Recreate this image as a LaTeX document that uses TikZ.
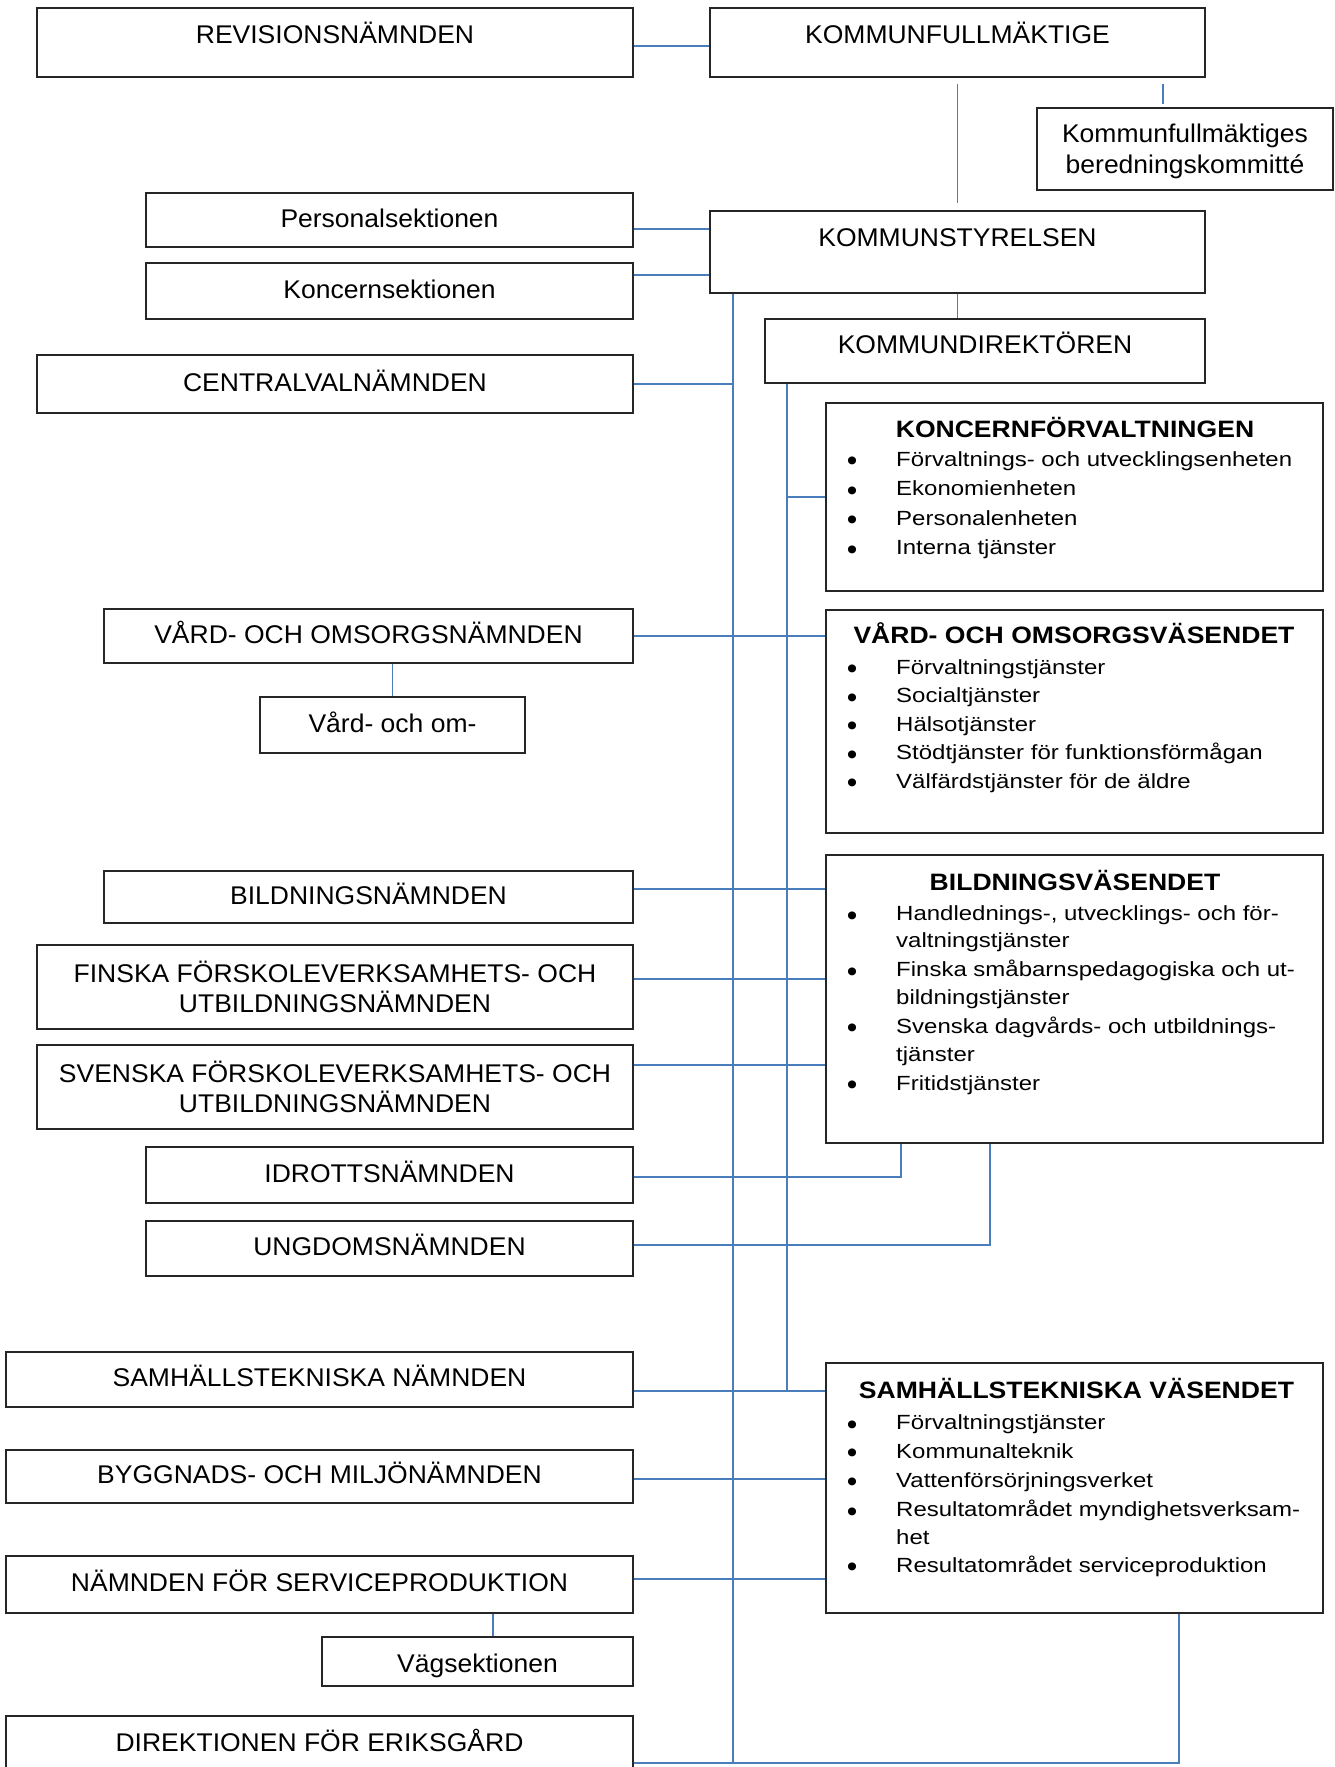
\documentclass[tikz,border=0pt]{standalone}
\usepackage{fontspec}
\setmainfont{Liberation Sans}[FakeStretch=1.035]
\newfontfamily\listfont{Liberation Sans}[FakeStretch=1.17]
\newfontfamily\titlefont{Liberation Sans}[FakeStretch=1.12]
\definecolor{linec}{RGB}{74,126,187}
\definecolor{boxc}{RGB}{38,38,38}
\tikzset{
  capfont/.style={font=\fontsize{25.6}{30.6}\selectfont},
  box/.style={draw=boxc, line width=1.2pt, fill=white, inner sep=0pt, align=center, capfont},
  oneline/.style={text height=18.4pt, text depth=3.5pt},
  captxt/.style={capfont, anchor=base, inner sep=0pt},
  item/.style={anchor=base west, inner sep=0pt, font=\listfont\fontsize{20.5}{24}\selectfont},
  bul/.style={anchor=base, inner sep=0pt, font=\fontsize{29}{30}\selectfont},
  ttl/.style={anchor=base, inner sep=0pt, font=\titlefont\bfseries\fontsize{23.7}{28}\selectfont},
  conn/.style={draw=linec, line width=1.4pt}
}
\begin{document}
\begin{tikzpicture}[x=1pt,y=-1pt]
\useasboundingbox (0,0) rectangle (1335,1767);
\fill[white] (0,0) rectangle (1335,1767);
\clip (0,0) rectangle (1335,1767);

% ---------- boxes ----------
\node[box, minimum width=596pt, minimum height=69pt] (rev) at (335,42.5) {};
\node[captxt] (revt) at (335,43) {REVISIONSNÄMNDEN};
\node[box, minimum width=495pt, minimum height=69pt] (kf) at (957.5,42.5) {};
\node[captxt] (kft) at (957.5,43) {KOMMUNFULLMÄKTIGE};
\node[box, minimum width=296pt, minimum height=82pt] (bk) at (1185,149) {};
\node[captxt] (bkt1) at (1185,142.5) {Kommunfullmäktiges};
\node[captxt] (bkt2) at (1185,173) {beredningskommitté};
\node[box, oneline, minimum width=487pt, minimum height=54pt] (pers) at (389.5,220) {Personalsektionen};
\node[box, oneline, minimum width=487pt, minimum height=56pt] (konc) at (389.5,291) {Koncernsektionen};
\node[box, minimum width=495pt, minimum height=82pt] (ks) at (957.5,252) {};
\node[captxt] (kst) at (957.5,246) {KOMMUNSTYRELSEN};
\node[box, minimum width=440pt, minimum height=64pt] (kd) at (985,351) {};
\node[captxt] (kdt) at (985,353) {KOMMUNDIREKTÖREN};
\node[box, oneline, minimum width=596pt, minimum height=58pt] (cv) at (335,384) {CENTRALVALNÄMNDEN};
\node[box, minimum width=497pt, minimum height=188pt] (kfv) at (1074.5,497) {};
\node[box, oneline, minimum width=529pt, minimum height=54pt] (von) at (368.5,636) {VÅRD- OCH OMSORGSNÄMNDEN};
\node[box, oneline, minimum width=265pt, minimum height=56pt] (vom) at (392.5,725) {Vård- och om-};
\node[box, minimum width=497pt, minimum height=223pt] (vov) at (1074.5,721.5) {};
\node[box, oneline, minimum width=529pt, minimum height=52pt] (bn) at (368.5,897) {BILDNINGSNÄMNDEN};
\node[box, minimum width=497pt, minimum height=288pt] (bv) at (1074.5,999) {};
\node[box, minimum width=596pt, minimum height=84pt] (fi) at (335,987) {FINSKA FÖRSKOLEVERKSAMHETS- OCH\\UTBILDNINGSNÄMNDEN};
\node[box, minimum width=596pt, minimum height=84pt] (sv) at (335,1087) {SVENSKA FÖRSKOLEVERKSAMHETS- OCH\\UTBILDNINGSNÄMNDEN};
\node[box, oneline, minimum width=487pt, minimum height=56pt] (id) at (389.5,1175) {IDROTTSNÄMNDEN};
\node[box, oneline, minimum width=487pt, minimum height=55pt] (ung) at (389.5,1248.5) {UNGDOMSNÄMNDEN};
\node[box, oneline, minimum width=627pt, minimum height=55pt] (sn) at (319.5,1379.5) {SAMHÄLLSTEKNISKA NÄMNDEN};
\node[box, minimum width=497pt, minimum height=250pt] (stv) at (1074.5,1488) {};
\node[box, oneline, minimum width=627pt, minimum height=53pt] (bm) at (319.5,1476.5) {BYGGNADS- OCH MILJÖNÄMNDEN};
\node[box, oneline, minimum width=627pt, minimum height=57pt] (nsp) at (319.5,1584.5) {NÄMNDEN FÖR SERVICEPRODUKTION};
\node[box, minimum width=311pt, minimum height=49pt] (vag) at (477.5,1661.5) {};
\node[captxt] (vagt) at (477.5,1672) {Vägsektionen};
\node[box, minimum width=627pt, minimum height=84pt] (dir) at (319.5,1758) {};
\node[captxt] (dirt) at (319.5,1751) {DIREKTIONEN FÖR ERIKSGÅRD};

% ---------- list boxes ----------
\node[ttl] (kfvt) at (1075,437) {KONCERNFÖRVALTNINGEN};
\foreach \yy/\txt/\bb [count=\i] in {466/{Förvaltnings- och utvecklingsenheten}/1,
  495.5/{Ekonomienheten}/1, 525/{Personalenheten}/1, 554.5/{Interna tjänster}/1}{
  \node[item] (kfvi\i) at (896,\yy) {\txt};
  \ifnum\bb=1 \node[bul] (kfvb\i) at (852,\yy+4.5) {\textbullet};\fi
}
\node[ttl] (vovt) at (1074,643) {VÅRD- OCH OMSORGSVÄSENDET};
\foreach \yy/\txt/\bb [count=\i] in {674/{Förvaltningstjänster}/1,
  702.7/{Socialtjänster}/1, 731/{Hälsotjänster}/1,
  759.5/{Stödtjänster för funktionsförmågan}/1, 788.3/{Välfärdstjänster för de äldre}/1}{
  \node[item] (vovi\i) at (896,\yy) {\txt};
  \ifnum\bb=1 \node[bul] (vovb\i) at (852,\yy+4.5) {\textbullet};\fi
}
\node[ttl] (bvt) at (1075,890.7) {BILDNINGSVÄSENDET};
\foreach \yy/\txt/\bb [count=\i] in {920.7/{Handlednings-, utvecklings- och för-}/1,
  947.3/{valtningstjänster}/0, 976.7/{Finska småbarnspedagogiska och ut-}/1,
  1004/{bildningstjänster}/0, 1033.3/{Svenska dagvårds- och utbildnings-}/1,
  1061/{tjänster}/0, 1090/{Fritidstjänster}/1}{
  \node[item] (bvi\i) at (896,\yy) {\txt};
  \ifnum\bb=1 \node[bul] (bvb\i) at (852,\yy+4.5) {\textbullet};\fi
}
\node[ttl] (stvt) at (1076.5,1398.5) {SAMHÄLLSTEKNISKA VÄSENDET};
\foreach \yy/\txt/\bb [count=\i] in {1429.5/{Förvaltningstjänster}/1,
  1458.3/{Kommunalteknik}/1, 1487.3/{Vattenförsörjningsverket}/1,
  1516.7/{Resultatområdet myndighetsverksam-}/1, 1544/{het}/0,
  1572.3/{Resultatområdet serviceproduktion}/1}{
  \node[item] (stvi\i) at (896,\yy) {\txt};
  \ifnum\bb=1 \node[bul] (stvb\i) at (852,\yy+4.5) {\textbullet};\fi
}

% ---------- connectors ----------
\coordinate (ksb) at (733,0);
\coordinate (kdb) at (787,0);
\coordinate (bkx) at (1163,0);
\coordinate (idx) at (901,0);
\coordinate (ungx) at (990,0);
\coordinate (vagx) at (493,0);
\coordinate (stx) at (1179,0);
\coordinate (bot) at (1179,1763);

\draw[conn] (rev.east |- 0,46) -- (kf.west |- 0,46);
\draw[conn] ([yshift=-6pt]kf.south) -- ([yshift=7pt]ks.north);
\draw[conn] ([yshift=-6pt]kf.south -| bkx) -- ([yshift=3pt]bk.north -| bkx);
\draw[conn] (pers.east |- 0,229) -- (ks.west |- 0,229);
\draw[conn] (konc.east |- 0,275) -- (ks.west |- 0,275);
\draw[conn] (ks.south) -- (ks.south |- kd.north);
\draw[conn] (ks.south -| ksb) -- (bot -| ksb);
\draw[conn] (kd.south -| kdb) -- (kdb |- 0,1391);
\draw[conn] (cv.east) -- (cv.east -| ksb);
\draw[conn] (kfv.west) -- (kfv.west -| kdb);
\draw[conn] (von.east) -- (von.east -| vov.west);
\draw[conn] (von.south -| vom.north) -- (vom.north);
\draw[conn] (bn.east |- 0,889) -- (bv.west |- 0,889);
\draw[conn] (fi.east |- 0,979) -- (bv.west |- 0,979);
\draw[conn] (sv.east |- 0,1065) -- (bv.west |- 0,1065);
\draw[conn] (id.east |- 0,1177) -- (idx |- 0,1177) -- (bv.south -| idx);
\draw[conn] (ung.east |- 0,1245) -- (ungx |- 0,1245) -- (bv.south -| ungx);
\draw[conn] (sn.east |- 0,1391) -- (stv.west |- 0,1391);
\draw[conn] (bm.east |- 0,1479) -- (stv.west |- 0,1479);
\draw[conn] (nsp.east |- 0,1579) -- (stv.west |- 0,1579);
\draw[conn] (nsp.south -| vagx) -- (vag.north -| vagx);
\draw[conn] (dir.east |- bot) -- (bot) -- (stv.south -| stx);
\end{tikzpicture}
\end{document}
